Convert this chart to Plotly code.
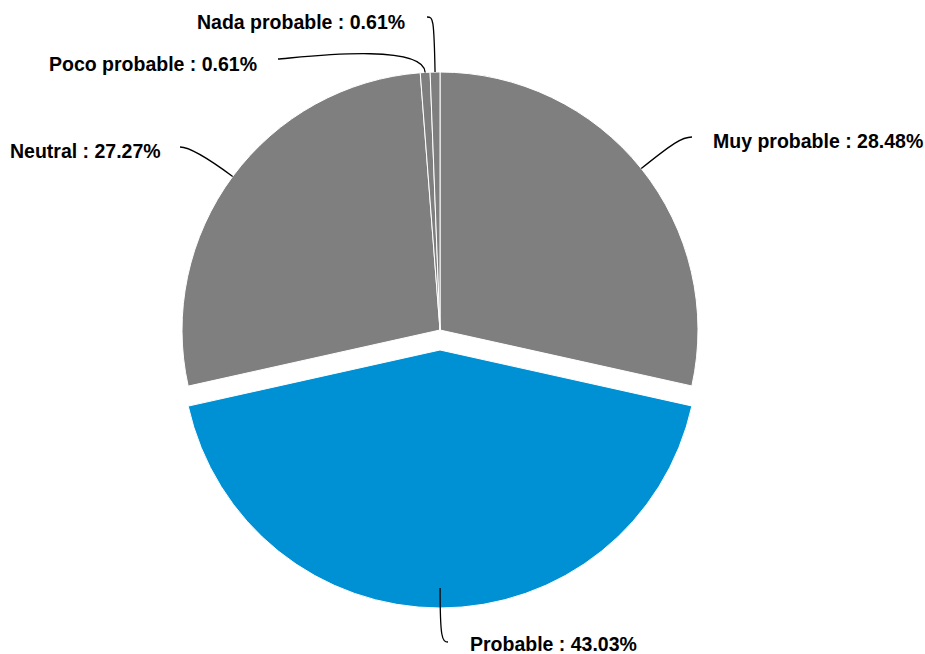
import math
import plotly.graph_objects as go

# ---- data ----
categories = ["Muy probable", "Probable", "Neutral", "Poco probable", "Nada probable"]
values = [28.48, 43.03, 27.27, 0.61, 0.61]
colors = ["#7F7F7F", "#0090D4", "#7F7F7F", "#7F7F7F", "#7F7F7F"]
pulls = [0, 0.0775, 0, 0, 0]

# ---- layout constants (pixels) ----
W, H = 925, 654
CX, CY, R = 440, 330, 258
box = R * (2 + 2 * max(pulls))

# label layout: elbow end (ex, ey), text position (tx, ty), anchor side, control lengths
label_layout = {
    "Muy probable":  dict(ex=692, ey=137, tx=711, ty=141, anchor="left",  k1=40, k2=10),
    "Probable":      dict(ex=448, ey=642, tx=468, ty=644, anchor="left",  k1=50, k2=6),
    "Neutral":       dict(ex=180, ey=147, tx=163, ty=151, anchor="right", k1=32, k2=10),
    "Poco probable": dict(ex=278, ey=59,  tx=259, ty=64,  anchor="right", k1=32, k2=10),
    "Nada probable": dict(ex=427, ey=17,  tx=407, ty=22,  anchor="right", k1=55, k2=6),
}


def px(x):
    return x / W


def py(y):
    return 1 - y / H


fig = go.Figure(go.Pie(
    labels=categories,
    values=values,
    sort=False,
    direction="clockwise",
    rotation=0,
    pull=pulls,
    marker=dict(colors=colors, line=dict(color="white", width=1)),
    textinfo="none",
    hoverinfo="label+percent",
    showlegend=False,
    domain=dict(x=[px(CX - box / 2), px(CX + box / 2)],
                y=[py(CY + box / 2), py(CY - box / 2)]),
))

total = sum(values)
cum = 0.0
shapes = []
annotations = []
for name, v in zip(categories, values):
    mid = (cum + v / 2) / total * 2 * math.pi
    cum += v
    dx, dy = math.sin(mid), -math.cos(mid)
    ax, ay = CX + R * dx, CY + R * dy
    L = label_layout[name]
    ex, ey = L["ex"], L["ey"]
    k1x, k1y = ax + dx * L["k1"], ay + dy * L["k1"]
    side = 1 if L["anchor"] == "left" else -1
    k2x, k2y = ex - side * L["k2"], ey
    path = (f"M {px(ax)},{py(ay)} C {px(k1x)},{py(k1y)} "
            f"{px(k2x)},{py(k2y)} {px(ex)},{py(ey)}")
    shapes.append(dict(type="path", path=path, xref="paper", yref="paper",
                       line=dict(color="black", width=1.3)))
    annotations.append(dict(
        x=px(L["tx"]), y=py(L["ty"]), xref="paper", yref="paper",
        text=f"<b>{name} : {v:.2f}%</b>", showarrow=False,
        xanchor=L["anchor"], yanchor="middle",
        font=dict(family="Arial, Liberation Sans, sans-serif", size=19.5, color="black"),
    ))

fig.update_layout(
    width=W, height=H,
    margin=dict(l=0, r=0, t=0, b=0),
    paper_bgcolor="white", plot_bgcolor="white",
    shapes=shapes, annotations=annotations,
)

fig.write_html("out.html")
